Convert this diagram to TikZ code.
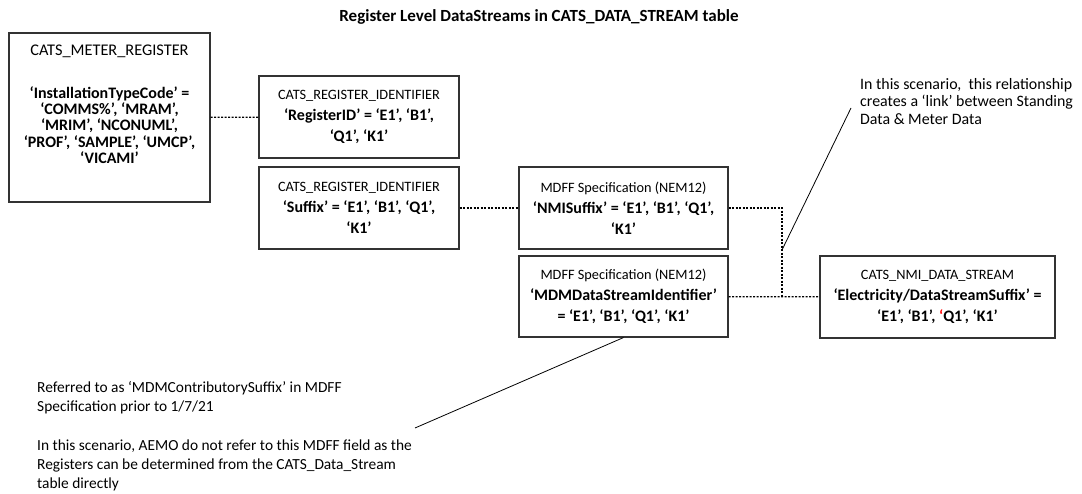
\documentclass[tikz,border=0pt]{standalone}
\usepackage{fontspec}
\setmainfont{Carlito}
\usepackage{xcolor}
\usepackage{tikz}
\usetikzlibrary{positioning}
\tikzset{
    tbl/.style={draw=black!80, line width=1.1pt, align=center, inner sep=0pt,
        font=\fontsize{16}{21}\selectfont},
    dl/.style={line width=1.3pt, dash pattern=on 2pt off 1.5pt},
    nt/.style={align=left, inner sep=0pt, anchor=north west,
        font=\fontsize{15.4}{19}\selectfont}}
\newcommand{\hdr}[1]{{\fontsize{14.3}{21}\selectfont #1}}

\begin{document}
\begin{tikzpicture}[x=1pt, y=-1pt]
        \useasboundingbox (0,0) rectangle (1082,494);

                    \node[font=\fontsize{17}{20}\selectfont\bfseries] (T) at (539,17) {Register Level DataStreams in CATS\_DATA\_STREAM table};

                    \node[tbl, minimum width=201, minimum height=169] (M) at (109.5,117.5) {};
                    \node[align=center, inner sep=0pt, font=\fontsize{16}{16.4}\selectfont, below=12pt of M.north] (Mt) {{\fontsize{16.3}{16.4}\selectfont CATS\_METER\_REGISTER}\\[26.5pt]
                        \textbf{‘InstallationTypeCode’ =}\\ \textbf{‘COMMS\%’, ‘MRAM’,}\\ \textbf{‘MRIM’, ‘NCONUML’,}\\ \textbf{‘PROF’, ‘SAMPLE’, ‘UMCP’,}\\ \textbf{‘VICAMI’}};
                    \node[tbl, minimum width=200, minimum height=82] (R1) at (359,117) {\hdr{CATS\_REGISTER\_IDENTIFIER}\\ \textbf{‘RegisterID’ = ‘E1’, ‘B1’,}\\ \textbf{‘Q1’, ‘K1’}};
                    \node[tbl, minimum width=200, minimum height=82] (R2) at (359,208) {\hdr{CATS\_REGISTER\_IDENTIFIER}\\ \textbf{‘Suffix’ = ‘E1’, ‘B1’, ‘Q1’,}\\ \textbf{‘K1’}};
                    \node[tbl, minimum width=209, minimum height=82] (N1) at (623.5,208) {\hdr{MDFF Specification (NEM12)}\\ \textbf{‘NMISuffix’ = ‘E1’, ‘B1’, ‘Q1’,}\\ \textbf{‘K1’}};
                    \node[tbl, minimum width=209, minimum height=81] (N2) at (623.5,296.5) {\hdr{MDFF Specification (NEM12)}\\ \textbf{‘MDMDataStreamIdentifier’}\\ \textbf{= ‘E1’, ‘B1’, ‘Q1’, ‘K1’}};
                    \node[tbl, minimum width=235, minimum height=82] (S) at (937.5,297) {\hdr{CATS\_NMI\_DATA\_STREAM}\\ \textbf{‘Electricity/DataStreamSuffix’ =}\\ \textbf{‘E1’, ‘B1’, {\color{red}‘}Q1’, ‘K1’}};

                    \node[nt, font=\fontsize{15.9}{17.5}\selectfont] (C1) at (860,78) {In this scenario,\ \ this relationship\\creates a ‘link’ between Standing\\Data \& Meter Data};
                    \node[nt] (C2) at (37,381) {Referred to as ‘MDMContributorySuffix’ in MDFF\\Specification prior to 1/7/21\\[20pt]In this scenario, AEMO do not refer to this MDFF field as the\\Registers can be determined from the CATS\_Data\_Stream\\table directly};

                    \coordinate (J) at (782,297);
                    \coordinate (K) at (782,250);
                    \coordinate (P1) at (851,108);
                    \coordinate (P2) at (415,428);

                    \draw[dl] (M) -- (R1);
                    \draw[dl] (R2) -- (N1);
                    \draw[dl] (N1.east) -| (J);
                    \draw[dl] (N2) -- (S);
                    \draw[line width=0.8pt] (K) -- (P1);
                    \draw[line width=0.8pt] (N2.south) -- (P2);

                \end{tikzpicture}
\end{document}
